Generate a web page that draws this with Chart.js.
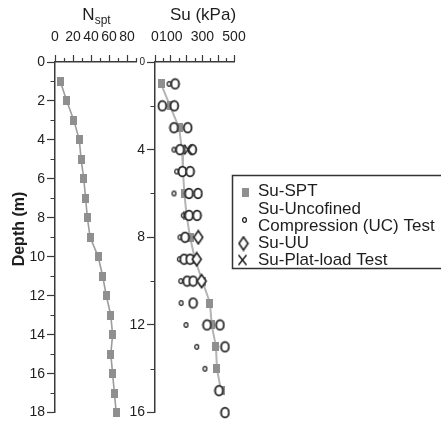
<!DOCTYPE html>
<html>
<head>
<meta charset="utf-8">
<script src="https://cdn.jsdelivr.net/npm/chart.js@4.4.0/dist/chart.umd.min.js"></script>
<style>
  html, body { margin: 0; padding: 0; background: #fff; }
  #wrap { position: relative; width: 441px; height: 423px; overflow: hidden; }
  #nspt { position: absolute; left: 0; top: 0; }
  #su { position: absolute; left: 120px; top: 0; }
</style>
</head>
<body>
<div id="wrap">
  <canvas id="nspt" width="150" height="423"></canvas>
  <canvas id="su" width="321" height="423"></canvas>
</div>
<script>
const FONT = '"Liberation Sans", Arial, Helvetica, sans-serif';
const INK = "#1e1e1e";
const AXIS = "#3a3a3a";

// N_spt profile
const nsptDepth = [1, 2, 3, 4, 5, 6, 7, 8, 9, 10, 11, 12, 13, 14, 15, 16, 17, 18];
const nsptValue = [6, 13, 21, 27, 29, 32, 34, 36, 39, 48, 53, 57, 62, 64, 62, 64, 66, 68];
const nsptTickLabels = [0, 20, 40, 60, 80];
const depthTickLabelsN = [0, 2, 4, 6, 8, 10, 12, 14, 16, 18];

// Su profile
const sptDepth = [1, 2, 3, 4, 5, 6, 7, 8, 9, 10, 11, 12, 13, 14, 15];
const sptSu = [38, 95, 152, 171, 177, 186, 200, 222, 253, 300, 348, 359, 386, 392, 418];
const ucSmallDepth = [1, 4, 5, 6, 7, 8, 9, 10, 11, 12, 13, 14];
const ucSmallSu = [89, 120, 137, 120, 179, 158, 154, 163, 165, 196, 264, 316];
const ucLargeDepth = [1, 2, 2, 3, 3, 4, 4, 5, 5, 6, 6, 7, 7, 8, 9, 9, 10, 10, 11, 12, 12, 13, 15, 16];
const ucLargeSu = [127, 46, 122, 120, 207, 158, 236, 173, 222, 215, 272, 215, 266, 190, 184, 222, 203, 241, 241, 329, 411, 443, 405, 443];
const uuDepth = [8, 9, 10];
const uuSu = [274, 264, 295];
const plateDepth = [4];
const plateSu = [209];
const suTickLabels = [0, 100, 300, 500];
const depthTickLabelsSu = [0, 4, 8, 12, 16];

const legendLabels = [["Su-SPT"], ["Su-Uncofined", "Compression (UC) Test"], ["Su-UU"], ["Su-Plat-load Test"]];

Chart.defaults.font.family = FONT;
Chart.defaults.color = INK;

const pts = (xs, ys) => xs.map((x, i) => ({ x, y: ys[i] }));

// little canvases used as point styles
function marker(w, h, draw) {
  const c = document.createElement("canvas");
  c.width = w;
  c.height = h;
  draw(c.getContext("2d"), w, h);
  return c;
}
const squareMark = marker(7, 9, (g, w, h) => {
  g.fillStyle = "#8f8f8f";
  g.fillRect(0, 0, w, h);
});
const bigRing = marker(11, 13, (g, w, h) => {
  g.beginPath();
  g.ellipse(w / 2, h / 2, 3.9, 4.9, 0, 0, Math.PI * 2);
  g.fillStyle = "#fff";
  g.fill();
  g.lineWidth = 1.8;
  g.strokeStyle = "#222";
  g.stroke();
});
const smallRing = marker(7, 8, (g, w, h) => {
  g.beginPath();
  g.ellipse(w / 2, h / 2, 1.9, 2.4, 0, 0, Math.PI * 2);
  g.lineWidth = 1.3;
  g.strokeStyle = "#222";
  g.stroke();
});
const diamondMark = marker(12, 16, (g, w, h) => {
  g.beginPath();
  g.moveTo(w / 2, 1.5);
  g.lineTo(w - 1.5, h / 2);
  g.lineTo(w / 2, h - 1.5);
  g.lineTo(1.5, h / 2);
  g.closePath();
  g.fillStyle = "#fff";
  g.fill();
  g.lineWidth = 1.6;
  g.strokeStyle = "#222";
  g.stroke();
});
const crossMark = marker(11, 13, (g, w, h) => {
  g.beginPath();
  g.moveTo(1.5, 1.5);
  g.lineTo(w - 1.5, h - 1.5);
  g.moveTo(w - 1.5, 1.5);
  g.lineTo(1.5, h - 1.5);
  g.lineWidth = 1.5;
  g.strokeStyle = "#222";
  g.stroke();
});

const onStep = (step) => (c) => (c.tick && c.tick.value % step === 0 ? AXIS : "rgba(0,0,0,0)");

function xAxis(max, step, labels) {
  return {
    type: "linear",
    position: "top",
    min: 0,
    max,
    afterFit: (s) => { s.height = 62; },
    border: { color: AXIS, width: 1.5 },
    grid: { drawOnChartArea: false, tickLength: 7, tickColor: onStep(step), tickWidth: 1.2 },
    ticks: {
      stepSize: step,
      includeBounds: false,
      autoSkip: false,
      maxRotation: 0,
      minRotation: 0,
      padding: 9,
      color: INK,
      font: { size: 14 },
      callback: (v) => (labels.includes(v) ? v : ""),
    },
  };
}

function yAxis(max, step, labels, width, smallZero) {
  return {
    type: "linear",
    position: "left",
    reverse: true,
    min: 0,
    max,
    afterFit: (s) => { s.width = width; },
    border: { color: AXIS, width: 1.5 },
    grid: { drawOnChartArea: false, tickLength: 8, tickColor: onStep(step), tickWidth: 1.2 },
    ticks: {
      stepSize: step,
      autoSkip: false,
      padding: 2,
      color: INK,
      font: (c) => ({ size: smallZero && c.tick && c.tick.value === 0 ? 10 : 14 }),
      callback: (v) => (labels.includes(v) ? v : ""),
    },
  };
}

// short ticks half way between the long ones
function minorTicks(xStep, xLen, yStep, yLen) {
  return {
    id: "minorTicks",
    afterDraw(chart) {
      const { ctx, chartArea: a, scales: { x, y } } = chart;
      ctx.save();
      ctx.strokeStyle = AXIS;
      ctx.lineWidth = 1.2;
      ctx.beginPath();
      for (let v = xStep; v <= x.max; v += 2 * xStep) {
        const px = Math.round(x.getPixelForValue(v)) + 0.5;
        ctx.moveTo(px, a.top);
        ctx.lineTo(px, a.top - xLen);
      }
      for (let v = yStep; v <= y.max; v += 2 * yStep) {
        const py = Math.round(y.getPixelForValue(v)) + 0.5;
        ctx.moveTo(a.left, py);
        ctx.lineTo(a.left - yLen, py);
      }
      ctx.stroke();
      ctx.restore();
    },
  };
}

function texts(items) {
  return {
    id: "texts",
    afterDraw(chart) {
      const ctx = chart.ctx;
      for (const t of items) {
        ctx.save();
        ctx.fillStyle = INK;
        ctx.textBaseline = "alphabetic";
        const mainFont = `${t.bold ? "bold " : ""}${t.size}px ${FONT}`;
        ctx.font = mainFont;
        const main = ctx.measureText(t.text).width;
        let subW = 0;
        if (t.sub) {
          ctx.font = `${t.subSize}px ${FONT}`;
          subW = ctx.measureText(t.sub).width;
        }
        ctx.translate(t.x, t.y);
        if (t.rotate) ctx.rotate(t.rotate);
        const left = -(main + subW) / 2;
        ctx.font = mainFont;
        ctx.fillText(t.text, left, 0);
        if (t.sub) {
          ctx.font = `${t.subSize}px ${FONT}`;
          ctx.fillText(t.sub, left + main, t.subDrop);
        }
        ctx.restore();
      }
    },
  };
}

const boxLegend = {
  id: "boxLegend",
  afterDraw(chart) {
    const ctx = chart.ctx;
    ctx.save();
    ctx.strokeStyle = "#333";
    ctx.lineWidth = 1.5;
    ctx.strokeRect(112.5, 175.5, 212, 93);
    const marks = [squareMark, smallRing, diamondMark, crossMark];
    const markX = [125, 124.5, 123.5, 122.5];
    const markY = [192.5, 220, 243.5, 260];
    const rowY = [191.5, 209, 226, 243.5, 260];
    ctx.font = `17px ${FONT}`;
    ctx.fillStyle = INK;
    ctx.textBaseline = "middle";
    let row = 0;
    legendLabels.forEach((lines, i) => {
      const m = marks[i];
      ctx.drawImage(m, markX[i] - m.width / 2, markY[i] - m.height / 2);
      lines.forEach((s) => ctx.fillText(s, 138, rowY[row++]));
    });
    ctx.restore();
  },
};

const common = {
  responsive: false,
  animation: false,
  events: [],
  plugins: { legend: { display: false }, tooltip: { enabled: false } },
};

new Chart(document.getElementById("nspt"), {
  type: "scatter",
  data: {
    datasets: [
      {
        label: "Nspt",
        data: pts(nsptValue, nsptDepth),
        showLine: true,
        borderColor: "#9c9c9c",
        borderWidth: 1.6,
        pointStyle: squareMark,
        pointRadius: 5,
        clip: false,
      },
    ],
  },
  options: {
    ...common,
    layout: { padding: { top: 0, right: 14, bottom: 8, left: 0 } },
    scales: {
      x: xAxis(90, 20, nsptTickLabels),
      y: yAxis(18, 2, depthTickLabelsN, 55, false),
    },
  },
  plugins: [
    minorTicks(10, 4, 1, 4.5),
    texts([
      { text: "N", sub: "spt", size: 17, subSize: 12, subDrop: 3.5, x: 96.5, y: 20 },
      { text: "Depth (m)", size: 16, bold: true, x: 23.5, y: 229, rotate: -Math.PI / 2 },
    ]),
  ],
});

new Chart(document.getElementById("su"), {
  type: "scatter",
  data: {
    datasets: [
      { label: "Su-Plat-load Test", data: pts(plateSu, plateDepth), pointStyle: crossMark, pointRadius: 5, clip: false },
      { label: "Su-UU", data: pts(uuSu, uuDepth), pointStyle: diamondMark, pointRadius: 6, clip: false },
      { label: "Su-UC", data: pts(ucLargeSu, ucLargeDepth), pointStyle: bigRing, pointRadius: 5, clip: false },
      { label: "Su-UC small", data: pts(ucSmallSu, ucSmallDepth), pointStyle: smallRing, pointRadius: 3, clip: false },
      {
        label: "Su-SPT",
        data: pts(sptSu, sptDepth),
        showLine: true,
        borderColor: "#b4b4b4",
        borderWidth: 2,
        pointStyle: squareMark,
        pointRadius: 5,
        clip: false,
      },
    ],
  },
  options: {
    ...common,
    layout: { padding: { top: 0, right: 207, bottom: 8, left: 0 } },
    scales: {
      x: xAxis(500, 100, suTickLabels),
      y: yAxis(16, 4, depthTickLabelsSu, 35, true),
    },
  },
  plugins: [
    minorTicks(50, 4, 2, 4.5),
    texts([{ text: "Su (kPa)", size: 17, x: 83, y: 20 }]),
    boxLegend,
  ],
});
</script>
</body>
</html>
